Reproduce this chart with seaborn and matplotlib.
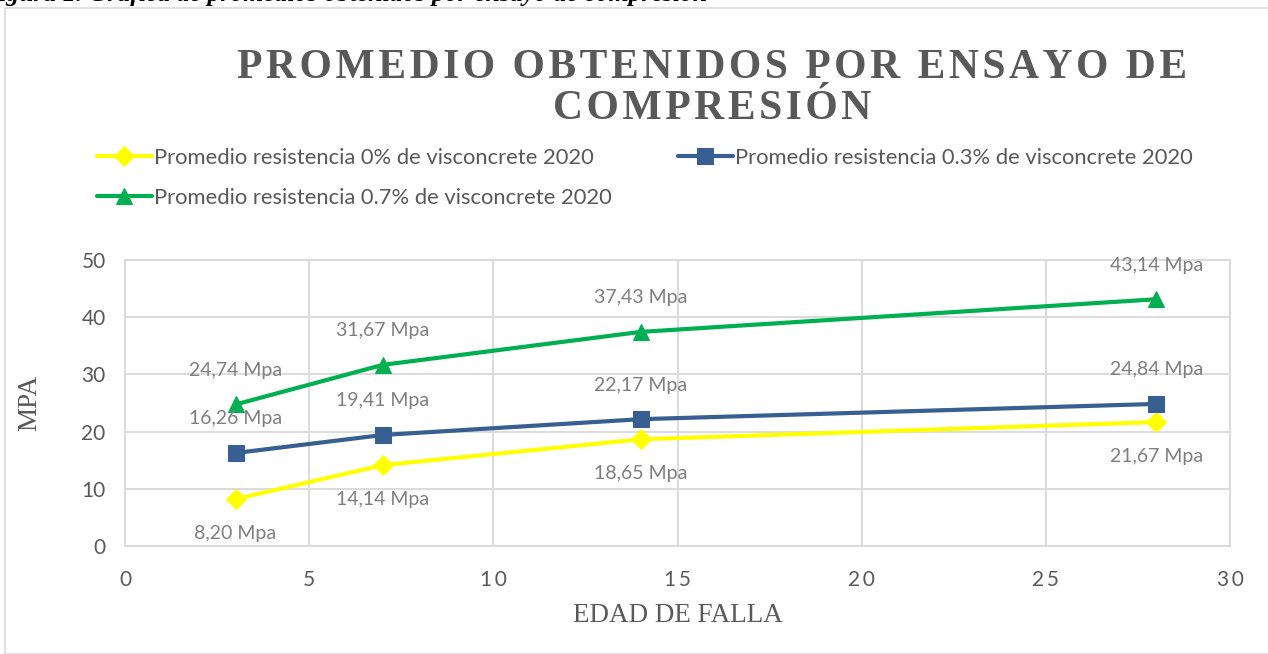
import matplotlib
matplotlib.use("Agg")
import matplotlib.pyplot as plt
import seaborn as sns
import pandas as pd
from matplotlib.patches import Rectangle
from matplotlib.ticker import FuncFormatter

edad = [3, 7, 14, 28]
prom_0 = [8.20, 14.14, 18.65, 21.67]
prom_03 = [16.26, 19.41, 22.17, 24.84]
prom_07 = [24.74, 31.67, 37.43, 43.14]
labels = ["Promedio resistencia 0% de visconcrete 2020",
          "Promedio resistencia 0.3% de visconcrete 2020",
          "Promedio resistencia 0.7% de visconcrete 2020"]
x_ticks = [0, 5, 10, 15, 20, 25, 30]
y_ticks = [0, 10, 20, 30, 40, 50]
title_lines = ["PROMEDIO OBTENIDOS POR ENSAYO DE", "COMPRESIÓN"]

THIN = "\u2009"
HAIR = "\u200A"

sns.set_theme(style="white")
plt.rcParams['font.family'] = ['Lato', 'DejaVu Sans']

fig = plt.figure(figsize=(12.68, 6.54), dpi=100)
ax = fig.add_axes([125/1268, 1-546/654, (1230-125)/1268, (546-260)/654])

series = [
    (prom_0, labels[0], "#FFFF00", "D", 10, -1),
    (prom_03, labels[1], "#375F92", "s", 12, 1),
    (prom_07, labels[2], "#00B050", "^", 12, 1),
]
for vals, lab, col, mk, ms, side in series:
    df = pd.DataFrame({"x": edad, "y": vals})
    sns.lineplot(data=df, x="x", y="y", ax=ax, color=col, linewidth=3,
                 marker=mk, markersize=ms, markeredgecolor=col, label=lab, zorder=3)
    for xv, yv in zip(edad, vals):
        ax.annotate(f"{yv:.2f}".replace(".", ",") + " Mpa", (xv, yv),
                    xytext=(0, 34 * side), textcoords="offset pixels",
                    ha="center", va="center", fontsize=14, color="#7F7F7F", zorder=4)

h, l = ax.get_legend_handles_labels()
ax.get_legend().remove()
order = [0, 2, 1]
fig.legend([h[i] for i in order], [l[i] for i in order], ncol=2, frameon=False,
           loc="upper left", bbox_to_anchor=(88/1268, 1-139/654), fontsize=15.8,
           handlelength=2.5, handletextpad=0.12, columnspacing=3.0, labelspacing=0.9,
           labelcolor="#595959", borderaxespad=0)

ax.set_xlim(0, 30)
ax.set_ylim(0, 50)
ax.set_xticks(x_ticks)
ax.set_yticks(y_ticks)
ax.xaxis.set_major_formatter(FuncFormatter(lambda v, p: THIN.join(str(int(v)))))
ax.grid(True, color="#D9D9D9", linewidth=1.3)
for s in ax.spines.values():
    s.set_color("#D9D9D9")
    s.set_linewidth(1.3)
ax.tick_params(axis="both", labelsize=15, colors="#595959", length=0)
ax.tick_params(axis="y", pad=14)
ax.tick_params(axis="x", pad=17)
ax.set_xlabel("EDAD DE FALLA", family="Liberation Serif", fontsize=19.5, color="#595959")
ax.set_ylabel("MPA", family="Liberation Serif", fontsize=19.5, color="#595959")
ax.xaxis.set_label_coords(0.5, (546-615)/286)
ax.xaxis.label.set_verticalalignment("center")
ax.yaxis.set_label_coords((30-125)/1105, 0.5)
ax.yaxis.label.set_verticalalignment("center")

for line, ypix in zip(title_lines, [78, 119]):
    fig.text(712/1268, 1-ypix/654, HAIR.join(line),
             ha="center", va="baseline", family=["Liberation Serif", "DejaVu Serif"],
             fontweight="bold", fontsize=30, color="#595959")

fig.patches.append(Rectangle((5/1268, 0), 1, 1-8/654, transform=fig.transFigure,
                             fill=False, edgecolor="#D9D9D9", linewidth=1.2))
fig.text(-18/1268, 1+6/654, "Figura 1. Gráfica de promedios obtenidos por ensayo de compresión",
         ha="left", va="center", family="Liberation Serif", fontstyle="italic",
         fontweight="bold", fontsize=18.5, color="black")

fig.savefig("out.png", dpi=100)
